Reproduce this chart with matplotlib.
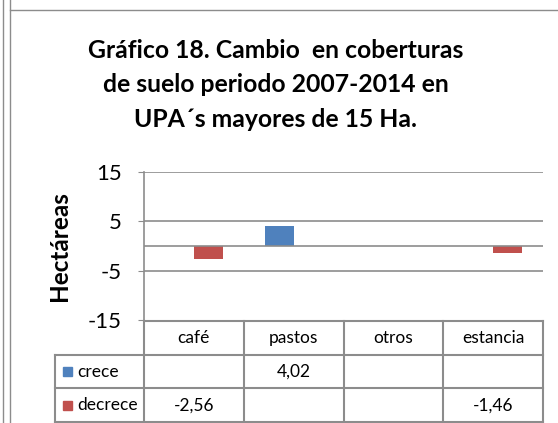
"""Cambio en coberturas de suelo 2007-2014, UPA mayores de 15 Ha."""
import matplotlib

matplotlib.use("Agg")
import matplotlib.pyplot as plt
from matplotlib.lines import Line2D
from matplotlib.patches import Rectangle

# Data
categories = ["café", "pastos", "otros", "estancia"]
series = ["crece", "decrece"]
crece = [None, 4.02, None, None]
decrece = [-2.56, None, None, -1.46]
yticks = [-15, -5, 5, 15]

COLORS = {"crece": "#4F81BD", "decrece": "#C0504D"}
GRID = "#8C8C8C"
W, H = 558, 423


def fx(px):
    return px / W


def fy(py):
    return 1 - py / H


def fmt(v):
    return "" if v is None else f"{v:.2f}".replace(".", ",")


def main():
    plt.rcParams["font.family"] = ["Lato", "DejaVu Sans"]
    fig = plt.figure(figsize=(W / 100, H / 100), dpi=100)

    # frame lines of the embedded chart
    for x in (2.5, 9.5):
        fig.add_artist(Line2D([fx(x), fx(x)], [0, 1], color=GRID, lw=1.0))
    fig.add_artist(Line2D([fx(9.5), 1], [fy(10.5), fy(10.5)], color=GRID, lw=1.0))

    fig.text(fx(276), fy(85), "Gráfico 18. Cambio  en coberturas\n"
             "de suelo periodo 2007-2014 en\nUPA´s mayores de 15 Ha.",
             ha="center", va="center", fontsize=17.8, fontweight="bold",
             linespacing=1.6)

    # main plot
    ax = fig.add_axes([fx(144), fy(320), fx(543) - fx(144), fy(172) - fy(320)])
    xs = list(range(len(categories)))
    width = 0.29
    for vals, off, name in ((crece, -width / 2, "crece"), (decrece, width / 2, "decrece")):
        px = [x + off for x, v in zip(xs, vals) if v is not None]
        pv = [v for v in vals if v is not None]
        ax.bar(px, pv, width, color=COLORS[name], zorder=3)

    ax.set_xlim(-0.5, len(categories) - 0.5)
    ax.set_ylim(-15, 15)
    ax.set_yticks(yticks)
    ax.set_yticklabels([str(t) for t in yticks], fontsize=16)
    ax.set_xticks([])
    ax.tick_params(axis="y", length=4, color=GRID, pad=12)
    for s in ("top", "right", "bottom"):
        ax.spines[s].set_visible(False)
    ax.spines["left"].set_color(GRID)
    ax.spines["left"].set_linewidth(1.2)
    for t in (5, -5, 15):
        ax.axhline(t, color=GRID, lw=1.2, zorder=1)
    ax.axhline(0, color=GRID, lw=1.2, zorder=4)
    ax.set_ylabel("Hectáreas", fontsize=17.5, fontweight="bold", labelpad=12)

    # data table under the plot
    tab = fig.add_axes([fx(55), fy(422), fx(543) - fx(55), fy(321) - fy(422)])
    unit = 99.75  # pixels per category
    x0 = -0.5 - (144 - 55) / unit
    tab.set_xlim(x0, len(categories) - 0.5)
    tab.set_ylim(3, 0)
    tab.axis("off")
    kw = dict(color=GRID, lw=1.5, clip_on=False)
    tab.plot([-0.5, len(categories) - 0.5], [0, 0], **kw)
    for r in (1, 2, 3):
        tab.plot([x0, len(categories) - 0.5], [r, r], **kw)
    tab.plot([x0, x0], [1, 3], **kw)
    for i in range(len(categories) + 1):
        tab.plot([i - 0.5, i - 0.5], [0, 3], **kw)
    for i, c in enumerate(categories):
        tab.text(i, 0.5, c, ha="center", va="center", fontsize=12.5)
    key_w, key_h = 9 / unit, 9 / 33.7
    for r, (name, vals) in enumerate(zip(series, (crece, decrece)), start=1):
        tab.add_patch(Rectangle((x0 + 8 / unit, r + 0.5 - key_h / 2), key_w, key_h,
                                color=COLORS[name], clip_on=False))
        tab.text(x0 + 22 / unit, r + 0.5, name, ha="left", va="center", fontsize=12.5)
        for i, v in enumerate(vals):
            tab.text(i, r + 0.5, fmt(v), ha="center", va="center", fontsize=12.5)

    fig.savefig("out.png", dpi=100)


if __name__ == "__main__":
    main()
